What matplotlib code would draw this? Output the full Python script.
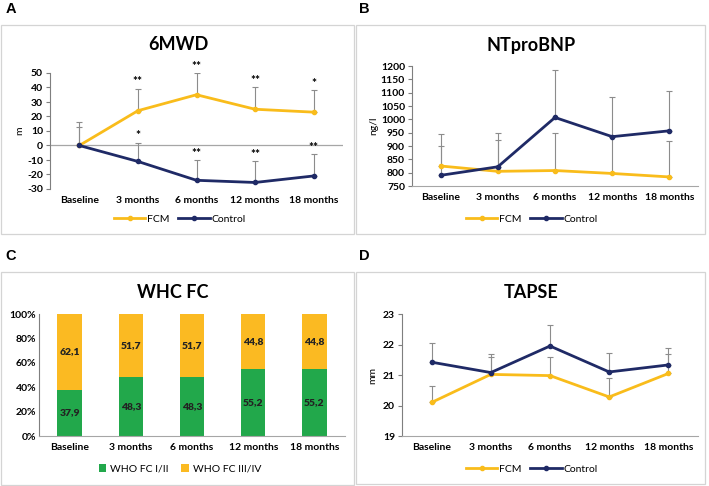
import matplotlib
matplotlib.use("Agg")
import matplotlib.pyplot as plt
from matplotlib.patches import Rectangle
from matplotlib.lines import Line2D
import numpy as np

plt.rcParams["font.family"] = ["Lato", "DejaVu Sans"]
plt.rcParams["font.weight"] = "bold"
plt.rcParams["axes.unicode_minus"] = False

W, H = 709, 486
FCM_C = "#F9BC1B"
CTRL_C = "#1F2A66"
GREEN = "#22A84B"
YEL = "#FBBA22"
ERR_C = "#8C8C8C"

months = ["Baseline", "3 months", "6 months", "12 months", "18 months"]

# 6MWD (change from baseline, m)
mwd_fcm = [0, 24, 35, 25, 23]
mwd_fcm_err = [16, 15, 15, 15, 15]
mwd_ctrl = [0, -11, -24, -25.5, -21]
mwd_ctrl_err = [13, 13, 14, 14.5, 15]
mwd_fcm_sig = ["", "**", "**", "**", "*"]
mwd_ctrl_sig = ["", "*", "**", "**", "**"]

# NTproBNP (ng/l)
bnp_fcm = [825, 805, 808, 797, 784]
bnp_fcm_err = [120, 117, 142, 138, 136]
bnp_ctrl = [790, 822, 1007, 935, 957]
bnp_ctrl_err = [110, 126, 178, 147, 148]

# WHO FC (%)
fc_12 = [37.9, 48.3, 48.3, 55.2, 55.2]
fc_34 = [62.1, 51.7, 51.7, 44.8, 44.8]

# TAPSE (mm)
tapse_fcm = [20.1, 21.02, 20.98, 20.28, 21.05]
tapse_fcm_err = [0.55, 0.58, 0.62, 0.62, 0.65]
tapse_ctrl = [21.42, 21.08, 21.95, 21.1, 21.33]
tapse_ctrl_err = [0.63, 0.6, 0.7, 0.62, 0.57]


def px_axes(fig, left, top, right, bottom):
    return fig.add_axes([left / W, 1 - bottom / H, (right - left) / W, (bottom - top) / H])


def fig_text(fig, x, y, s, **kw):
    fig.text(x / W, 1 - y / H, s, **kw)


def box(fig, left, top, right, bottom):
    fig.patches.append(Rectangle((left / W, 1 - bottom / H), (right - left) / W,
                                 (bottom - top) / H, transform=fig.transFigure,
                                 fill=False, ec="#d4d4d4", lw=0.9))


def style_axes(ax):
    for s in ("top", "right"):
        ax.spines[s].set_visible(False)
    ax.spines["left"].set_color("#7f7f7f")
    ax.spines["bottom"].set_color("#a6a6a6")
    ax.tick_params(axis="y", labelsize=7.5, length=3, color="#7f7f7f", pad=2)
    ax.tick_params(axis="x", labelsize=7.5, length=0, pad=5)
    ax.set_xlim(-0.5, 4.5)
    ax.set_xticks(range(5))
    ax.set_xticklabels(months)


def line_panel(ax, fcm, fcm_err, ctrl, ctrl_err):
    x = np.arange(5)
    for y, e in ((fcm, fcm_err), (ctrl, ctrl_err)):
        ax.errorbar(x, y, yerr=[np.zeros(5), e], fmt="none", ecolor=ERR_C,
                    elinewidth=0.8, capsize=2, capthick=0.8, zorder=1)
    ax.plot(x, fcm, "-o", color=FCM_C, lw=2, ms=3, zorder=3)
    ax.plot(x, ctrl, "-o", color=CTRL_C, lw=2, ms=3, zorder=3)


def line_legend(fig, cx, cy):
    handles = [Line2D([], [], color=FCM_C, lw=2, marker="o", ms=3),
               Line2D([], [], color=CTRL_C, lw=2, marker="o", ms=3)]
    fig.legend(handles, ["FCM", "Control"], loc="center", ncol=2,
               bbox_to_anchor=(cx / W, 1 - cy / H), frameon=False,
               handlelength=3, handletextpad=0.2, columnspacing=0.8,
               prop={"weight": "normal", "size": 7.5})


fig = plt.figure(figsize=(W / 100, H / 100), dpi=100)

# panel frames and letters
box(fig, 1, 25, 354, 234)
box(fig, 356, 25, 705, 234)
box(fig, 1, 272, 354, 485)
box(fig, 356, 272, 705, 484)
for x, y, s in ((11, 9, "A"), (364, 9, "B"), (11, 256, "C"), (364, 256, "D")):
    fig_text(fig, x, y, s, fontsize=10.5, weight="bold", ha="center", va="center",
             family="Liberation Sans")

# A: 6MWD
ax = px_axes(fig, 50, 73, 343, 189)
line_panel(ax, mwd_fcm, mwd_fcm_err, mwd_ctrl, mwd_ctrl_err)
style_axes(ax)
ax.set_ylim(-30, 50)
ax.set_yticks(range(-30, 51, 10))
ax.spines["bottom"].set_visible(False)
ax.axhline(0, color="#a6a6a6", lw=0.9, zorder=0)
for i in range(5):
    for y, e, s in ((mwd_fcm[i], mwd_fcm_err[i], mwd_fcm_sig[i]),
                    (mwd_ctrl[i], mwd_ctrl_err[i], mwd_ctrl_sig[i])):
        if s:
            ax.text(i, y + e + 1, s, ha="center", va="bottom", fontsize=8.5)
ax.set_ylabel("m", fontsize=7.5, labelpad=2)
fig_text(fig, 178, 45, "6MWD", fontsize=13, weight="bold", ha="center", va="center")
line_legend(fig, 180, 219)

# B: NTproBNP
ax = px_axes(fig, 412, 66, 698, 186)
line_panel(ax, bnp_fcm, bnp_fcm_err, bnp_ctrl, bnp_ctrl_err)
style_axes(ax)
ax.set_ylim(750, 1200)
ax.set_yticks(range(750, 1201, 50))
ax.set_ylabel("ng/l", fontsize=7.5, labelpad=2)
fig_text(fig, 531, 45, "NTproBNP", fontsize=13, weight="bold", ha="center", va="center")
line_legend(fig, 532, 219)

# C: WHO FC
ax = px_axes(fig, 39, 314, 345, 436)
x = np.arange(5)
ax.bar(x, fc_12, width=0.4, color=GREEN, label="WHO FC I/II")
ax.bar(x, fc_34, width=0.4, bottom=fc_12, color=YEL, label="WHO FC III/IV")
for i in range(5):
    ax.text(i, fc_12[i] / 2, f"{fc_12[i]:.1f}".replace(".", ","), ha="center",
            va="center", fontsize=7.5, weight="heavy", color="#222222")
    ax.text(i, fc_12[i] + fc_34[i] / 2, f"{fc_34[i]:.1f}".replace(".", ","),
            ha="center", va="center", fontsize=7.5, weight="heavy", color="#222222")
style_axes(ax)
ax.set_ylim(0, 100)
ax.set_yticks(range(0, 101, 20))
ax.set_yticklabels([f"{v}%" for v in range(0, 101, 20)])
ax.tick_params(axis="y", length=0)
fig.legend(*ax.get_legend_handles_labels(), loc="center", ncol=2,
           bbox_to_anchor=(180 / W, 1 - 469 / H), frameon=False,
           handlelength=0.7, handleheight=0.7, handletextpad=0.4, columnspacing=1.2,
           prop={"weight": "normal", "size": 7.5})
fig_text(fig, 173, 293, "WHC FC", fontsize=13, weight="bold", ha="center", va="center")

# D: TAPSE
ax = px_axes(fig, 402, 314, 698, 436)
line_panel(ax, tapse_fcm, tapse_fcm_err, tapse_ctrl, tapse_ctrl_err)
style_axes(ax)
ax.set_ylim(19, 23)
ax.set_yticks(range(19, 24))
ax.set_ylabel("mm", fontsize=7.5, labelpad=4)
fig_text(fig, 531, 293, "TAPSE", fontsize=13, weight="bold", ha="center", va="center")
line_legend(fig, 532, 469)

fig.savefig("out.png", dpi=100)
